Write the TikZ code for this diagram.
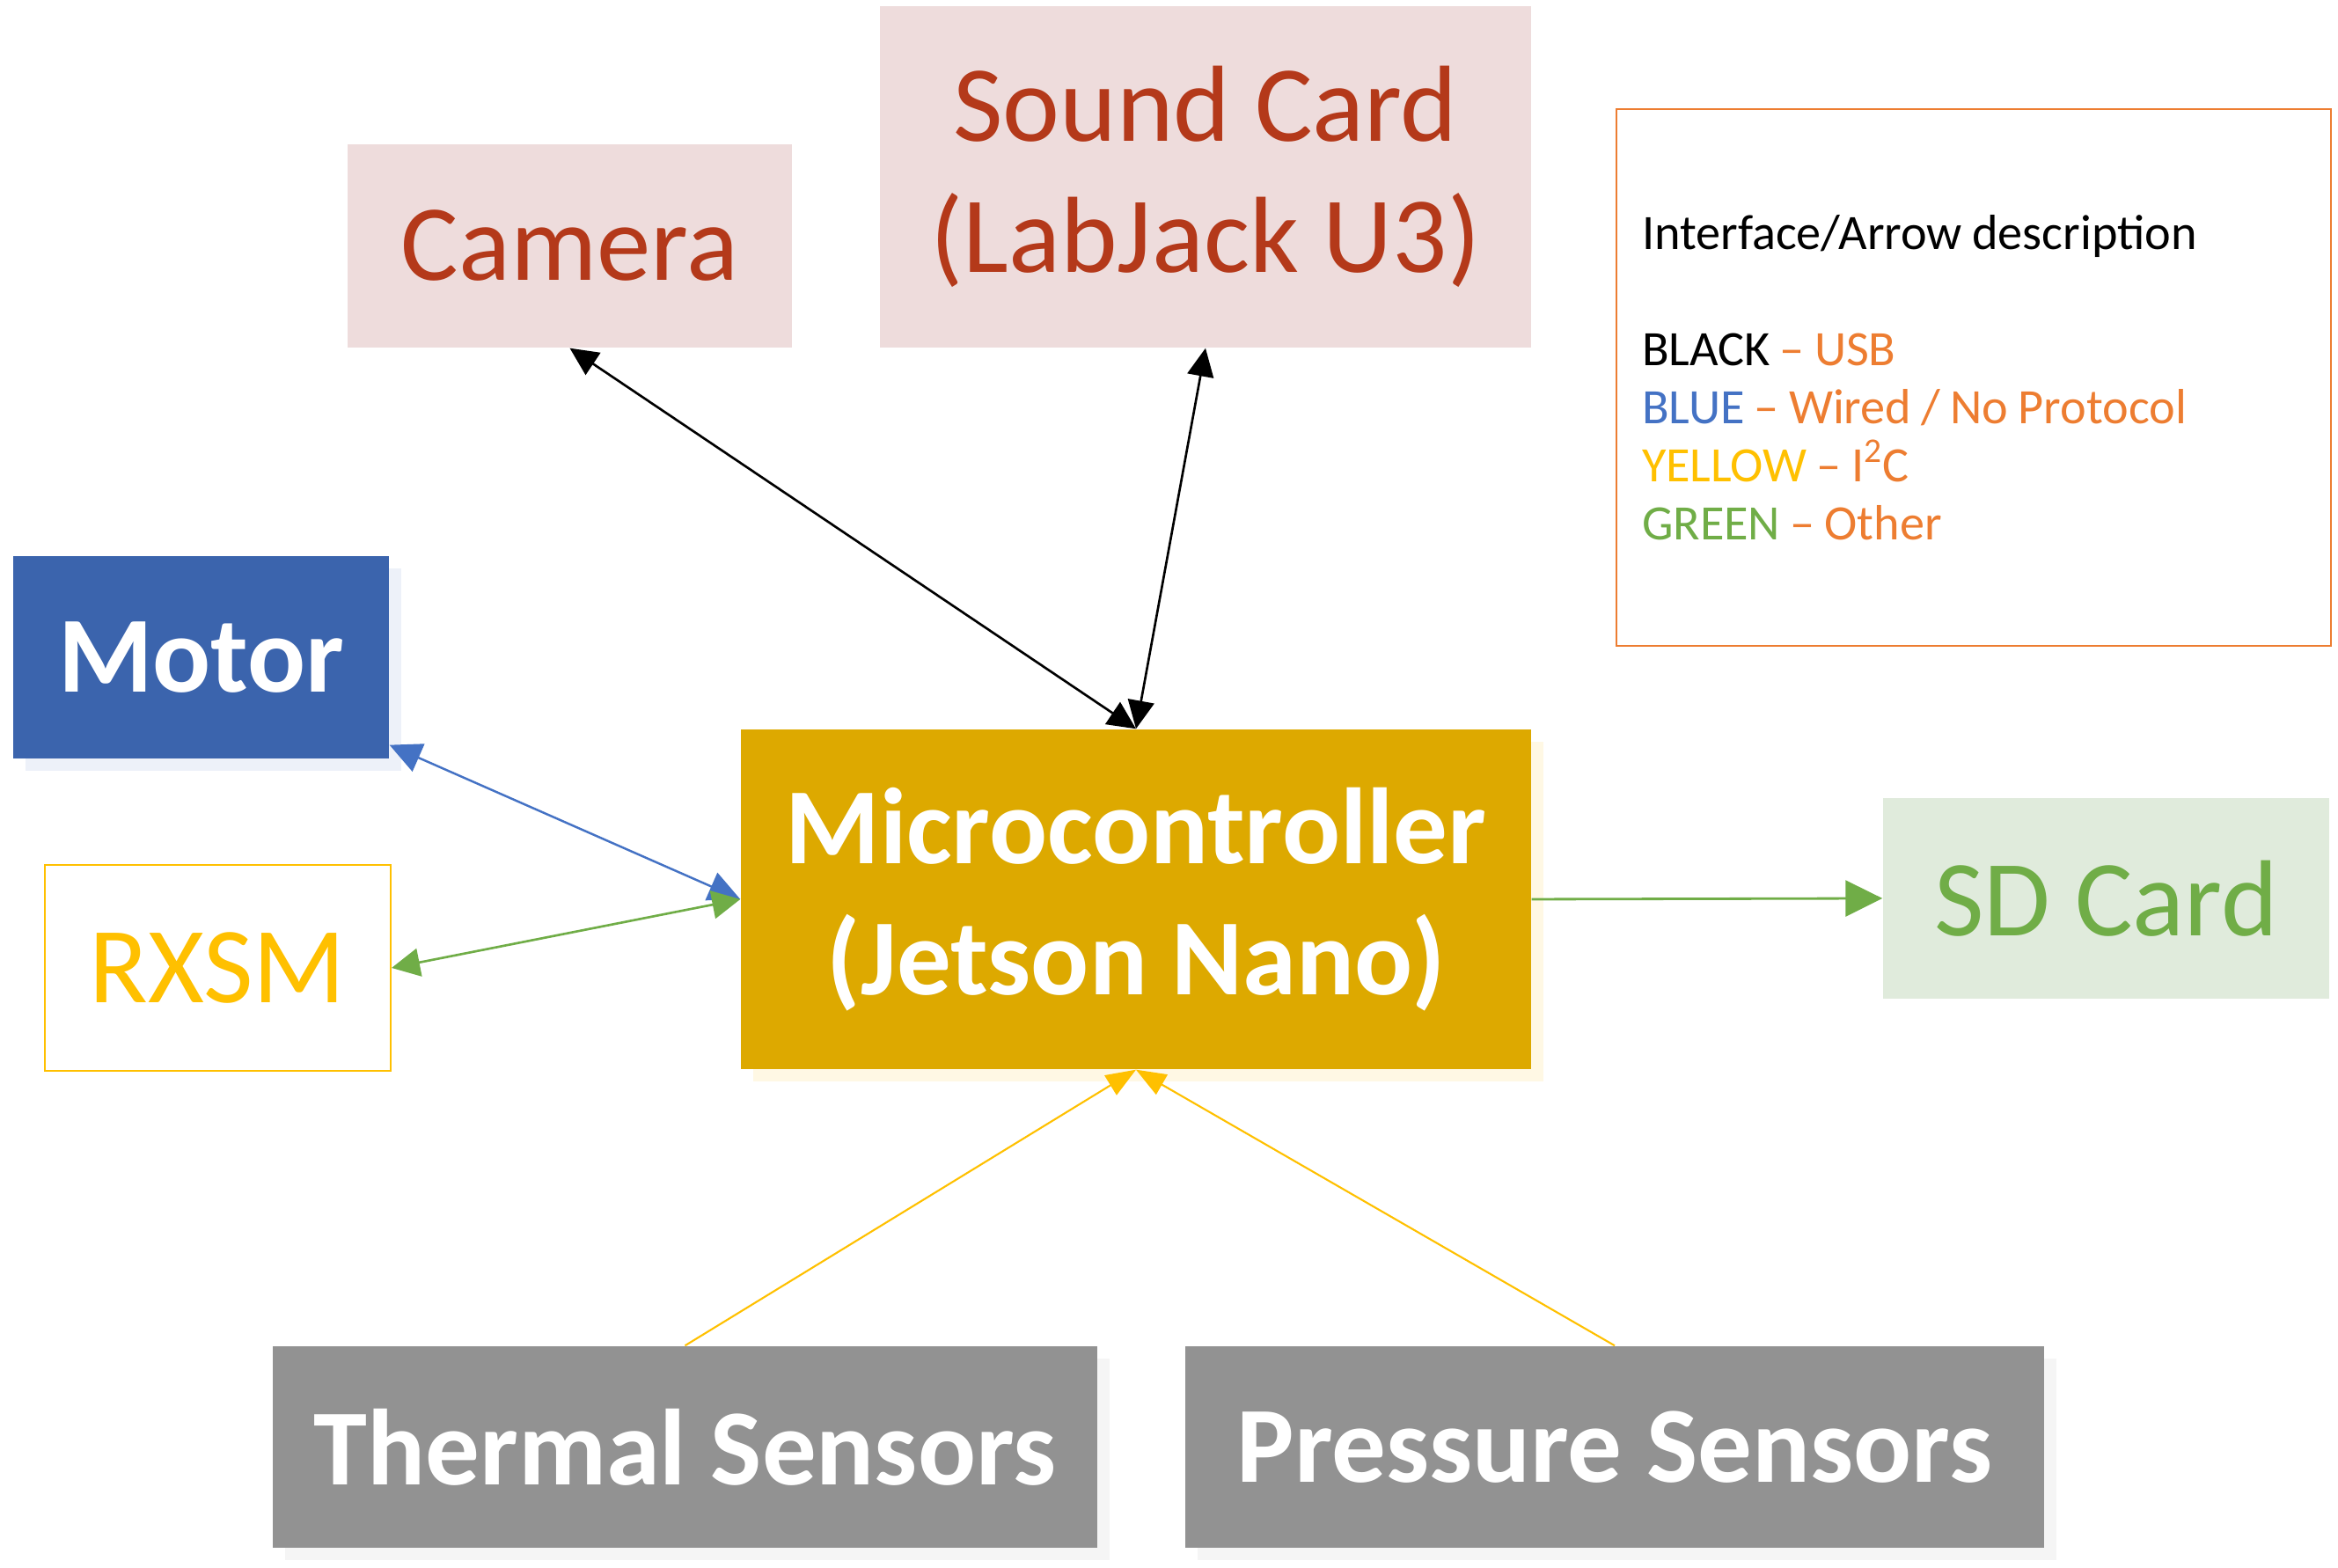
\documentclass[tikz,border=0pt]{standalone}
\usepackage{fontspec}
\setmainfont{Carlito}
\usepackage{xcolor}
\usetikzlibrary{arrows.meta,shadows}

\definecolor{pinkfill}{HTML}{EEDCDC}
\definecolor{redtxt}{HTML}{B4391A}
\definecolor{motfill}{HTML}{3B64AD}
\definecolor{motshade}{HTML}{EDF1F9}
\definecolor{mcfill}{HTML}{DDA900}
\definecolor{mcshade}{HTML}{FFF8E4}
\definecolor{sdfill}{HTML}{E0EBDC}
\definecolor{grayfill}{HTML}{929292}
\definecolor{grayshade}{HTML}{F5F5F5}
\definecolor{legorange}{HTML}{ED7D31}
\definecolor{legblue}{HTML}{4472C4}
\definecolor{legyellow}{HTML}{FFC000}
\definecolor{leggreen}{HTML}{70AD47}

\newcommand{\legsp}{\spaceskip=0.2em\relax}

\begin{document}
\begin{tikzpicture}[
	box/.style={rectangle, inner sep=0pt, align=center, font=\fontsize{35}{42.5}\selectfont},
	bbox/.style={box, font=\fontsize{35}{42.5}\selectfont\bfseries, text=white},
	shade/.style={drop shadow={shadow xshift=0.14cm, shadow yshift=-0.14cm, fill=#1, opacity=1}},
	blk/.style={line width=0.75pt, {Triangle[length=0.32cm, width=0.30cm]}-{Triangle[length=0.32cm, width=0.30cm]}},
	blu/.style={line width=0.7pt, color=legblue, {Triangle[length=0.36cm, width=0.34cm]}-{Triangle[length=0.36cm, width=0.34cm]}},
	grn/.style={line width=0.75pt, color=leggreen, {Triangle[length=0.32cm, width=0.32cm]}-{Triangle[length=0.32cm, width=0.32cm]}},
	ylw/.style={line width=0.6pt, color=legyellow, -{Triangle[length=0.34cm, width=0.26cm]}}
	]
	\useasboundingbox (0,0) rectangle (26.57,17.82);

	% top row
	\node[box, fill=pinkfill, text=redtxt, minimum width=5.05cm, minimum height=2.31cm] (cam) at (6.475, 15.025) {Camera};
	\node[box, fill=pinkfill, text=redtxt, minimum width=7.40cm, minimum height=3.88cm] (snd) at (13.70, 15.81) {Sound Card\\(LabJack U3)};

	% legend
	\node[draw=legorange, line width=0.6pt, inner sep=0.29cm, text width=7.54cm, minimum height=6.10cm, align=left, font=\fontsize{16}{18.8}\selectfont] (leg) at (22.43, 13.53) {\legsp Interface/Arrow description\\[18.8pt]
		BLACK \textcolor{legorange}{– USB}\\
		\textcolor{legblue}{BLUE} \textcolor{legorange}{– Wired / No Protocol}\\
		\textcolor{legyellow}{YELLOW} \textcolor{legorange}{– I\textsuperscript{2}C}\\
		\textcolor{leggreen}{GREEN} \textcolor{legorange}{– Other}};

	% middle row
	\node[bbox, fill=motfill, shade=motshade, minimum width=4.27cm, minimum height=2.30cm] (mot) at (2.285, 10.35) {Motor};
	\node[box, draw=legyellow, line width=0.6pt, fill=white, text=legyellow, minimum width=3.93cm, minimum height=2.34cm] (rx) at (2.475, 6.82) {RXSM};
	\node[bbox, fill=mcfill, shade=mcshade, minimum width=8.98cm, minimum height=3.86cm] (mc) at (12.91, 7.60) {Microcontroller\\(Jetson Nano)};
	\node[box, fill=sdfill, text=leggreen, minimum width=5.07cm, minimum height=2.28cm] (sd) at (23.935, 7.61) {SD Card};

	% sensors
	\node[bbox, fill=grayfill, shade=grayshade, minimum width=9.37cm, minimum height=2.29cm] (th) at (7.785, 1.375) {Thermal Sensors};
	\node[bbox, fill=grayfill, shade=grayshade, minimum width=9.76cm, minimum height=2.29cm] (pr) at (18.35, 1.375) {Pressure Sensors};

	% connections
	\draw[blk] (cam.south) -- (mc.north);
	\draw[blk] (snd.south) -- (mc.north);
	\draw[blu] ([yshift=0.16cm]mot.south east) -- (mc.west);
	\draw[grn] (rx.east) -- (mc.west);
	\draw[line width=0.8pt, color=leggreen, -{Triangle[length=0.42cm, width=0.41cm]}] (mc.east) -- (sd.west);
	\draw[ylw] (th.north) -- (mc.south);
	\draw[ylw] (pr.north) -- (mc.south);
\end{tikzpicture}
\end{document}
